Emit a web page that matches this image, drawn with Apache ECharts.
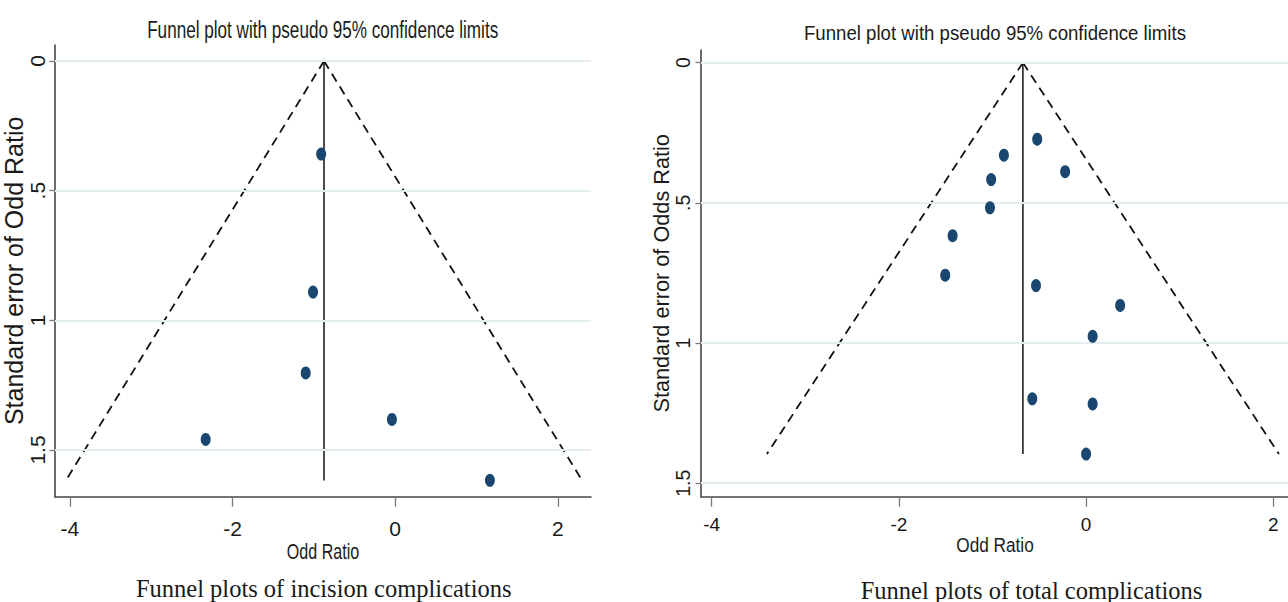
<!DOCTYPE html>
<html>
<head>
<meta charset="utf-8">
<script src="https://cdn.jsdelivr.net/npm/echarts@6/dist/echarts.min.js"></script>
<style>
  html, body { margin: 0; padding: 0; background: #ffffff; }
  #chart { width: 1288px; height: 602px; }
</style>
</head>
<body>
<div id="chart"></div>
<script>
// ---------------- data ----------------
// Left panel: incision complications
const leftOR = [-0.91, -1.01, -1.10, -0.04, -2.33, 1.165];
const leftSE = [0.359, 0.891, 1.203, 1.382, 1.459, 1.617];
const leftPooled = -0.875;
const leftFunnelSE = [0, 1.618];
const leftLowerX = [-0.875, -4.05];
const leftUpperX = [-0.875, 2.30];
const leftXRange = [-4.184, 2.408];
const leftYRange = [-0.0617, 1.680];

// Right panel: total complications
const rightOR = [-0.522, -0.878, -0.224, -1.014, -1.027, -1.426, -1.505, -0.535, 0.364, 0.070, -0.575, 0.070, 0.0];
const rightSE = [0.273, 0.330, 0.389, 0.417, 0.518, 0.617, 0.758, 0.795, 0.866, 0.976, 1.199, 1.217, 1.396];
const rightPooled = -0.675;
const rightFunnelSE = [0, 1.396];
const rightLowerX = [-0.675, -3.41];
const rightUpperX = [-0.675, 2.06];
const rightXRange = [-4.114, 2.157];
const rightYRange = [-0.045, 1.548];

// ticks
const xTicks = [-4, -2, 0, 2];
const yTicks = [0, 0.5, 1, 1.5];
const yTickLabels = ['0', '.5', '1', '1.5'];

// texts
const panelTitle = 'Funnel plot with pseudo 95% confidence limits';
const xName = 'Odd Ratio';
const leftYName = 'Standard error of Odd Ratio';
const rightYName = 'Standard error of Odds Ratio';
const leftCaption = 'Funnel plots of incision complications';
const rightCaption = 'Funnel plots of total complications';

// ---------------- chart ----------------
const chart = echarts.init(document.getElementById('chart'), null, { renderer: 'svg' });

const SANS = 'Liberation Sans, Arial, sans-serif';
const NARROW = 'Liberation Sans Narrow, Arial Narrow, Liberation Sans, sans-serif';
const SERIF = 'Liberation Serif, Times New Roman, serif';
const MARK = '#1a476f';
const GRIDC = '#e4edf2';

function pairs(xs, ys) { return xs.map((x, i) => [x, ys[i]]); }

function xAxisOpt(gi, range, fs, margin) {
  return {
    type: 'value', gridIndex: gi, position: 'bottom',
    min: range[0], max: range[1],
    axisLine: { onZero: false, lineStyle: { color: '#454545', width: 1.6 } },
    axisTick: { show: true, customValues: xTicks, length: 10, lineStyle: { color: '#7a7a7a', width: 1.3 } },
    axisLabel: { customValues: xTicks, margin: margin, fontFamily: NARROW, fontSize: fs, color: '#1a1a1a',
      formatter: v => String(v) },
    splitLine: { show: false }
  };
}
function yAxisOpt(gi, range, name, nfs, ngap, lfs, lmargin) {
  return {
    type: 'value', gridIndex: gi, inverse: true, position: 'left',
    min: range[0], max: range[1],
    name: name, nameLocation: 'middle', nameRotate: 90, nameGap: ngap,
    nameTextStyle: { fontFamily: SANS, fontSize: nfs, color: '#1a1a1a' },
    axisLine: { onZero: false, lineStyle: { color: '#454545', width: 1.6 } },
    axisTick: { show: true, customValues: yTicks, length: 5.5, lineStyle: { color: '#7a7a7a', width: 1.3 } },
    axisLabel: { customValues: yTicks, rotate: 90, margin: lmargin, fontFamily: SANS, fontSize: lfs, color: '#1a1a1a',
      formatter: v => { const i = yTicks.indexOf(v); return i >= 0 ? yTickLabels[i] : ''; } },
    splitLine: { show: false }
  };
}

function panelSeries(gi, ors, ses, pooled, fse, lowX, upX) {
  return [
    {
      type: 'line', xAxisIndex: gi, yAxisIndex: gi, z: 1,
      data: [[pooled, fse[0]], [pooled, fse[1]]],
      symbol: 'none', silent: true,
      lineStyle: { color: '#111', width: 1.5, type: 'solid' },
      markLine: {
        silent: true, symbol: ['none', 'none'], label: { show: false },
        lineStyle: { color: GRIDC, width: 1.8, type: 'solid' },
        emphasis: { disabled: true },
        data: yTicks.map(v => ({ yAxis: v }))
      }
    },
    {
      type: 'line', xAxisIndex: gi, yAxisIndex: gi, z: 2,
      data: pairs(lowX, fse), symbol: 'none', silent: true,
      lineStyle: { color: '#111', width: 1.8, type: [9, 6] }
    },
    {
      type: 'line', xAxisIndex: gi, yAxisIndex: gi, z: 2,
      data: pairs(upX, fse), symbol: 'none', silent: true,
      lineStyle: { color: '#111', width: 1.8, type: [9, 6] }
    },
    {
      type: 'scatter', xAxisIndex: gi, yAxisIndex: gi, z: 5,
      data: pairs(ors, ses), symbol: 'circle', symbolSize: [10, 13],
      itemStyle: { color: MARK, opacity: 1 }
    }
  ];
}

function txt(text, x, y, fs, family, sx) {
  return {
    type: 'text', x: x, y: y, scaleX: sx || 1, silent: true,
    style: { text: text, x: 0, y: 0, fill: '#1a1a1a', font: 'normal ' + fs + 'px ' + family,
      align: 'center', verticalAlign: 'middle' }
  };
}

const option = {
  animation: false,
  backgroundColor: '#ffffff',
  grid: [
    { left: 53.3, top: 45, width: 537.7, height: 451.7 },
    { left: 701, top: 50, width: 587, height: 446.7 }
  ],
  xAxis: [
    xAxisOpt(0, leftXRange, 21, 21),
    xAxisOpt(1, rightXRange, 19, 18)
  ],
  yAxis: [
    yAxisOpt(0, leftYRange, leftYName, 25, 21, 21, 7),
    yAxisOpt(1, rightYRange, rightYName, 21.7, 24, 19.5, 8)
  ],
  series: [].concat(
    panelSeries(0, leftOR, leftSE, leftPooled, leftFunnelSE, leftLowerX, leftUpperX),
    panelSeries(1, rightOR, rightSE, rightPooled, rightFunnelSE, rightLowerX, rightUpperX)
  ),
  graphic: [
    txt(panelTitle, 322.7, 29, 24.5, SANS, 0.699),
    txt(panelTitle, 995, 32.2, 20.5, SANS, 0.909),
    txt(xName, 323, 552, 22, SANS, 0.73),
    txt(xName, 995, 545, 20.5, SANS, 0.84),
    txt(leftCaption, 323.7, 588, 24.5, SERIF, 1),
    txt(rightCaption, 1031.5, 590, 24.5, SERIF, 1)
  ]
};
chart.setOption(option);
</script>
</body>
</html>
